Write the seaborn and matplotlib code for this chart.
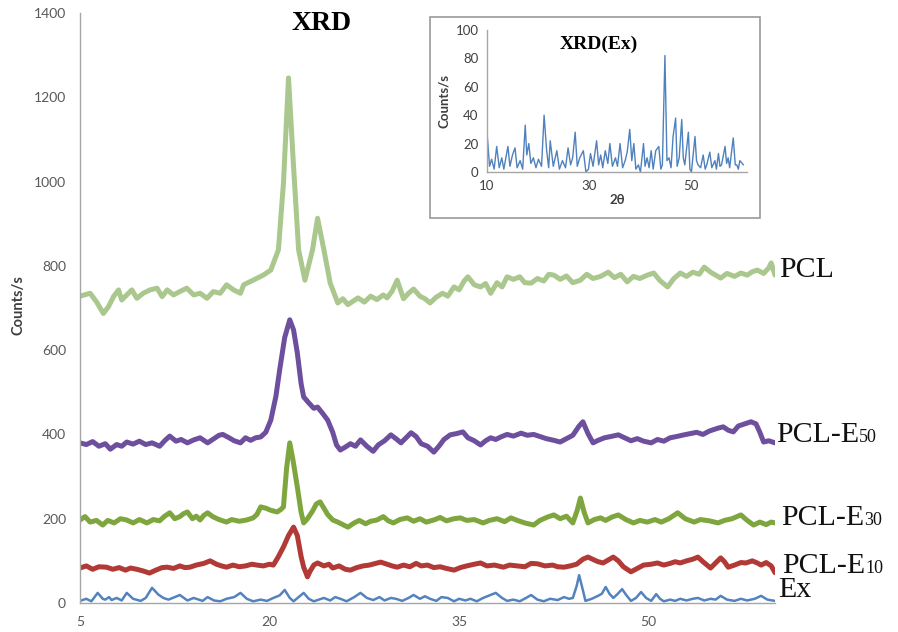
import matplotlib
matplotlib.use("Agg")
import matplotlib.pyplot as plt
import seaborn as sns
import pandas as pd
from matplotlib.patches import Rectangle

# ---------------- data ----------------
pcl_x = [5.0, 5.8, 6.3, 6.85, 7.25, 7.65, 8.05, 8.3, 8.7, 9.1, 9.5, 10.0, 10.55, 11.1,
         11.5, 11.9, 12.4, 12.9, 13.45, 14.0, 14.5, 15.05, 15.55, 16.1, 16.6, 17.15,
         17.7, 17.95, 18.7, 19.5, 20.1, 20.7, 21.1, 21.5, 21.9, 22.3, 22.8, 23.4, 23.8,
         24.3, 24.8, 25.4, 25.8, 26.2, 26.6, 27.0, 27.5, 28.0, 28.5, 29.0, 29.3, 29.7,
         30.1, 30.6, 31.0, 31.4, 31.9, 32.3, 32.7, 33.2, 33.7, 34.1, 34.6, 35.0, 35.4,
         35.7, 36.2, 36.7, 37.1, 37.5, 38.0, 38.4, 38.8, 39.3, 39.8, 40.2, 40.7, 41.2,
         41.7, 42.1, 42.5, 43.0, 43.5, 44.0, 44.6, 45.1, 45.6, 46.2, 46.8, 47.3, 47.8,
         48.3, 48.8, 49.3, 49.9, 50.4, 50.9, 51.5, 52.0, 52.5, 53.0, 53.5, 54.0, 54.4,
         54.9, 55.3, 55.7, 56.2, 56.8, 57.3, 57.8, 58.2, 58.6, 59.1, 59.5, 59.7, 60.0]
pcl_y = [728, 735, 715, 687, 703, 727, 743, 719, 731, 743, 723, 735, 743, 747,
         727, 743, 731, 739, 747, 731, 735, 723, 739, 735, 755, 743,
         735, 755, 766, 778, 790, 838, 996, 1246, 1035, 838, 766, 838, 913,
         838, 759, 712, 722, 708, 716, 724, 714, 728, 720, 731, 724, 740,
         766, 722, 735, 745, 728, 722, 712, 726, 735, 728, 750, 743, 764,
         774, 755, 750, 758, 735, 760, 750, 774, 768, 774, 760, 759, 770,
         764, 780, 778, 768, 776, 760, 766, 780, 770, 775, 785, 772, 780,
         762, 775, 770, 778, 783, 765, 750, 770, 783, 775, 785, 780, 797,
         785, 778, 771, 782, 775, 783, 778, 786, 790, 782, 795, 807, 778]

e50_x = [5.0, 5.5, 6.0, 6.5, 7.0, 7.4, 7.9, 8.3, 8.7, 9.2, 9.7, 10.2, 10.7, 11.3, 11.7,
         12.1, 12.6, 13.0, 13.5, 14.0, 14.5, 15.1, 15.6, 16.0, 16.3, 16.8, 17.2, 17.7,
         18.1, 18.5, 18.9, 19.3, 19.7, 20.1, 20.5, 20.8, 21.2, 21.6, 21.9, 22.2, 22.5,
         22.7, 23.1, 23.5, 23.8, 24.2, 24.6, 25.0, 25.3, 25.6, 26.0, 26.4, 26.8, 27.2,
         27.7, 28.2, 28.6, 29.1, 29.6, 30.0, 30.4, 30.8, 31.2, 31.6, 32.0, 32.5, 33.0,
         33.4, 33.8, 34.3, 34.8, 35.3, 35.7, 36.2, 36.7, 37.1, 37.5, 37.9, 38.3, 38.8,
         39.3, 39.9, 40.4, 40.9, 41.4, 41.9, 42.5, 43.0, 43.5, 44.0, 44.5, 44.8, 45.2,
         45.6, 46.0, 46.5, 47.0, 47.6, 48.1, 48.6, 49.1, 49.6, 50.2, 50.7, 51.2, 51.7,
         52.2, 52.8, 53.3, 53.8, 54.3, 54.8, 55.5, 55.9, 56.3, 56.7, 57.1, 57.6, 58.1,
         58.5, 58.8, 59.1, 59.5, 60.0]
e50_y = [380, 376, 383, 372, 378, 365, 376, 372, 382, 377, 384, 376, 380, 372, 385,
         396, 384, 388, 380, 387, 392, 380, 390, 398, 400, 392, 385, 380,
         392, 386, 392, 394, 405, 434, 490, 553, 630, 672, 648, 593, 520,
         489, 475, 462, 465, 450, 434, 405, 375, 363, 370, 378, 372, 387,
         372, 360, 375, 385, 399, 390, 380, 392, 404, 395, 378, 372, 358,
         372, 388, 399, 402, 406, 392, 385, 375, 385, 392, 388, 394, 400,
         396, 403, 398, 400, 395, 390, 386, 382, 390, 398, 420, 430, 402,
         380, 386, 392, 395, 399, 392, 385, 390, 384, 380, 388, 384, 392,
         395, 399, 402, 405, 400, 408, 415, 418, 410, 406, 420, 425, 430,
         425, 405, 382, 385, 380]

e30_x = [5.0, 5.4, 5.8, 6.3, 6.8, 7.2, 7.7, 8.2, 8.7, 9.2, 9.7, 10.3, 10.8, 11.3, 11.7,
         12.1, 12.5, 12.9, 13.2, 13.5, 13.9, 14.2, 14.5, 14.8, 15.1, 15.5, 16.0, 16.6,
         17.0, 17.6, 18.2, 18.7, 19.0, 19.3, 19.7, 20.1, 20.6, 20.9, 21.1, 21.35, 21.6,
         21.85, 22.2, 22.5, 22.7, 23.0, 23.4, 23.7, 24.0, 24.3, 24.6, 25.0, 25.4, 25.8,
         26.2, 26.7, 27.1, 27.6, 28.0, 28.5, 29.0, 29.4, 29.8, 30.3, 30.9, 31.4, 31.9,
         32.4, 33.0, 33.5, 34.0, 34.6, 35.1, 35.6, 36.2, 36.9, 37.4, 38.0, 38.6, 39.1,
         39.6, 40.2, 40.9, 41.4, 42.0, 42.5, 43.0, 43.5, 44.0, 44.35, 44.6, 44.9, 45.2,
         45.7, 46.2, 46.6, 47.1, 47.6, 48.2, 48.8, 49.3, 49.9, 50.5, 51.0, 51.6, 52.3,
         52.9, 53.6, 54.1, 54.8, 55.5, 56.0, 56.6, 57.3, 57.8, 58.3, 58.8, 59.3, 59.7,
         60.0]
e30_y = [197, 205, 192, 196, 185, 196, 190, 200, 197, 190, 198, 190, 198, 195, 206,
         214, 200, 205, 212, 216, 200, 206, 197, 208, 214, 205, 198, 192,
         198, 194, 197, 202, 210, 228, 225, 220, 216, 222, 228, 320, 380,
         340, 275, 215, 190, 200, 218, 235, 240, 225, 210, 197, 192, 186,
         180, 190, 196, 188, 194, 197, 205, 195, 190, 198, 202, 194, 200,
         192, 197, 203, 195, 200, 202, 196, 198, 190, 196, 200, 193, 202,
         196, 190, 185, 196, 204, 209, 200, 206, 190, 220, 249, 215, 190,
         198, 202, 196, 204, 209, 198, 190, 196, 192, 198, 192, 200, 214,
         200, 192, 198, 195, 190, 196, 200, 209, 196, 185, 192, 186, 192,
         190]

e10_x = [5.0, 5.5, 6.0, 6.5, 7.1, 7.6, 8.1, 8.6, 9.0, 9.5, 10.0, 10.5, 11.0, 11.5, 11.9,
         12.4, 12.9, 13.3, 13.7, 14.2, 14.8, 15.3, 15.8, 16.2, 16.6, 17.1, 17.6, 18.1,
         18.6, 19.0, 19.5, 20.0, 20.3, 20.7, 21.1, 21.5, 21.9, 22.2, 22.5, 22.7, 22.9,
         23.0, 23.2, 23.5, 23.8, 24.3, 24.7, 25.0, 25.5, 26.0, 26.4, 26.9, 27.4, 27.9,
         28.4, 28.8, 29.3, 29.7, 30.1, 30.6, 31.1, 31.6, 32.0, 32.5, 33.0, 33.5, 34.0,
         34.6, 35.1, 35.6, 36.2, 36.7, 37.2, 37.8, 38.5, 39.0, 39.6, 40.2, 40.7, 41.2,
         41.8, 42.4, 42.8, 43.3, 43.8, 44.3, 44.8, 45.2, 45.7, 46.0, 46.4, 46.8, 47.2,
         47.6, 48.0, 48.6, 49.1, 49.6, 50.2, 50.7, 51.2, 51.7, 52.1, 52.5, 53.0, 53.5,
         53.9, 54.3, 54.9, 55.3, 55.7, 56.0, 56.3, 56.8, 57.3, 57.7, 58.2, 58.6, 58.9,
         59.3, 59.7, 60.0]
e10_y = [83, 88, 80, 86, 85, 80, 84, 78, 83, 80, 76, 71, 78, 84, 85,
         82, 88, 84, 85, 90, 94, 100, 92, 88, 85, 90, 86, 88,
         92, 90, 88, 92, 90, 110, 133, 160, 180, 160, 110, 85, 70,
         62, 75, 90, 95, 88, 92, 83, 88, 80, 78, 84, 88, 90,
         94, 97, 92, 88, 85, 90, 86, 94, 88, 90, 84, 86, 82,
         78, 84, 88, 92, 95, 88, 90, 85, 90, 88, 86, 94, 93,
         88, 90, 86, 85, 88, 92, 104, 109, 102, 98, 95, 102, 109,
         100, 86, 74, 82, 90, 92, 95, 90, 94, 98, 95, 100, 104,
         109, 98, 83, 95, 107, 98, 85, 90, 96, 95, 100, 95, 90,
         96, 88, 72]

ex_x = [5.0, 5.5, 5.9, 6.4, 6.8, 7.0, 7.3, 7.5, 7.9, 8.3, 8.7, 9.2, 9.8, 10.2, 10.7,
        11.2, 11.6, 12.0, 12.5, 12.9, 13.5, 14.0, 14.3, 14.7, 15.1, 15.6, 16.1, 16.6,
        17.2, 17.7, 18.2, 18.7, 19.3, 19.8, 20.3, 20.8, 21.2, 21.6, 21.9, 22.3, 22.7,
        23.1, 23.5, 23.9, 24.3, 24.8, 25.2, 25.6, 26.1, 26.7, 27.2, 27.7, 28.2, 28.7,
        29.1, 29.6, 30.0, 30.5, 31.0, 31.4, 31.9, 32.3, 32.7, 33.2, 33.6, 34.1, 34.6,
        35.0, 35.5, 35.9, 36.4, 36.9, 37.4, 37.9, 38.4, 38.8, 39.3, 39.8, 40.3, 40.7,
        41.2, 41.7, 42.2, 42.8, 43.3, 43.7, 44.0, 44.3, 44.5, 44.8, 45.0, 45.5, 46.0,
        46.3, 46.6, 46.9, 47.2, 47.5, 47.9, 48.2, 48.6, 49.0, 49.4, 49.8, 50.2, 50.6,
        50.9, 51.2, 51.7, 52.1, 52.5, 53.0, 53.5, 53.9, 54.4, 54.9, 55.3, 55.7, 56.2,
        56.8, 57.3, 57.8, 58.4, 58.9, 59.4, 60.0]
ex_y = [5, 10, 4, 24, 10, 8, 14, 7, 12, 6, 24, 10, 5, 12, 36,
        20, 12, 8, 14, 19, 6, 12, 9, 5, 14, 6, 4, 10,
        14, 24, 10, 4, 8, 5, 12, 18, 31, 12, 4, 14, 24,
        10, 4, 8, 12, 6, 14, 10, 4, 14, 24, 12, 7, 14,
        6, 12, 10, 5, 12, 19, 10, 16, 10, 5, 14, 12, 4,
        10, 6, 10, 4, 12, 18, 24, 12, 5, 8, 4, 12, 19,
        8, 4, 10, 7, 14, 10, 12, 40, 66, 30, 5, 10, 17,
        22, 38, 22, 12, 20, 33, 20, 5, 12, 26, 12, 5, 21,
        10, 4, 8, 5, 10, 6, 10, 12, 6, 10, 8, 17, 8,
        5, 10, 6, 10, 17, 8, 5]

inset_x = [10.0, 10.5, 10.9, 11.4, 11.9, 12.4, 12.9, 13.3, 14.1, 14.5, 15.0, 15.5, 15.9,
           16.5, 17.0, 17.5, 17.8, 18.2, 18.6, 19.1, 19.6, 20.1, 20.7, 21.2, 21.7, 22.1,
           22.4, 23.0, 23.7, 24.2, 24.8, 25.4, 25.9, 26.4, 26.8, 27.3, 27.7, 28.2, 28.9,
           29.4, 29.9, 30.3, 30.8, 31.5, 31.9, 32.3, 32.7, 33.2, 33.7, 34.1, 34.6, 35.2,
           35.6, 36.1, 36.6, 37.1, 37.5, 38.0, 38.4, 38.8, 39.2, 39.7, 40.1, 40.7, 41.0,
           41.4, 41.8, 42.2, 42.6, 43.1, 43.7, 44.1, 44.4, 44.9, 45.3, 45.7, 46.1, 46.5,
           47.0, 47.3, 47.7, 48.2, 48.5, 48.8, 49.5, 49.8, 50.1, 50.8, 51.1, 51.4, 51.9,
           52.4, 52.8, 53.1, 53.7, 54.1, 54.7, 55.0, 55.4, 55.7, 56.0, 56.7, 57.0, 57.3,
           57.6, 58.3, 58.7, 59.0, 59.3, 59.6, 60.3]
inset_y = [28, 4, 9, 2, 18, 3, 10, 2, 18, 4, 12, 17, 3,
           8, 2, 33, 12, 20, 6, 10, 3, 9, 4, 40, 15, 3,
           22, 4, 15, 2, 8, 3, 17, 5, 10, 28, 4, 10, 15,
           0, 2, 13, 4, 22, 5, 12, 3, 15, 6, 20, 4, 10,
           4, 20, 3, 8, 14, 30, 8, 20, 2, 5, 0, 20, 4,
           10, 3, 15, 2, 15, 18, 2, 5, 82, 8, 10, 3, 25,
           38, 4, 10, 37, 10, 5, 28, 2, 0, 25, 8, 5, 3,
           12, 2, 5, 14, 3, 8, 2, 13, 4, 5, 18, 6, 10,
           3, 24, 5, 5, 2, 8, 5]

main_xticks = [5, 20, 35, 50]
main_yticks = [0, 200, 400, 600, 800, 1000, 1200, 1400]
inset_xticks = [10, 30, 50]
inset_yticks = [0, 20, 40, 60, 80, 100]

labels = [("PCL", ""), ("PCL-E", "50"), ("PCL-E", "30"), ("PCL-E", "10"), ("Ex", "")]

# ---------------- figure ----------------
sns.set_theme(style="white")
plt.rcParams['font.family'] = ['Lato', 'DejaVu Sans']

W, H = 898, 632
fig = plt.figure(figsize=(W / 100, H / 100), dpi=100)
ax = fig.add_axes([80 / W, 1 - 603 / H, (775 - 80) / W, (603 - 13) / H])

series = [
    (pcl_x, pcl_y, '#AAC78D', 3.6),
    (e50_x, e50_y, '#6E4F9E', 3.6),
    (e30_x, e30_y, '#7FA63E', 3.6),
    (e10_x, e10_y, '#B23A36', 3.6),
    (ex_x, ex_y, '#5383BE', 1.8),
]
for xs, ys, c, lw in series:
    df = pd.DataFrame({"x": xs, "y": ys})
    sns.lineplot(data=df, x="x", y="y", ax=ax, color=c, linewidth=lw,
                 sort=False, estimator=None)

ax.set_xlim(5, 60)
ax.set_ylim(0, 1400)
ax.set_xticks(main_xticks)
ax.set_yticks(main_yticks)
ax.set_xlabel("")
ax.set_ylabel("")
for s in ["top", "right"]:
    ax.spines[s].set_visible(False)
for s in ["left", "bottom"]:
    ax.spines[s].set_color("#A6A6A6")
    ax.spines[s].set_linewidth(1.0)
ax.tick_params(axis="both", direction="out", length=3, width=1, color="#A6A6A6",
               labelcolor="#595959", labelsize=10)
ax.tick_params(axis="y", pad=7)
ax.tick_params(axis="x", pad=6)

fig.text(322 / W, 1 - 30 / H, "XRD", family="Liberation Serif", weight="bold",
         size=20, ha="center", va="baseline", color="black")
fig.text(18 / W, 1 - 305 / H, "Counts/s", rotation=90, weight="bold", size=10.5,
         ha="center", va="center", color="#3F3F3F")

# right-hand labels with small subscript digits
renderer = fig.canvas.get_renderer()
label_pos = [(779, 277), (776, 442), (781, 525), (782, 573), (778, 597)]
for (main, sub), (px, py) in zip(labels, label_pos):
    t = fig.text(px / W, 1 - py / H, main, family="Liberation Serif", size=21.5,
                 ha="left", va="baseline", color="#111111")
    if sub:
        bb = t.get_window_extent(renderer)
        fig.text(bb.x1 / W, 1 - py / H, sub, family="Liberation Serif", size=13,
                 ha="left", va="baseline", color="#111111")

# ---------------- inset ----------------
fig.patches.append(Rectangle((430 / W, 1 - 218 / H), 330 / W, 201 / H,
                             transform=fig.transFigure, fill=False,
                             edgecolor="#9A9A9A", linewidth=1.2))
axi = fig.add_axes([487 / W, 1 - 172 / H, (747 - 487) / W, (172 - 30) / H])
dfi = pd.DataFrame({"x": inset_x, "y": inset_y})
sns.lineplot(data=dfi, x="x", y="y", ax=axi, color="#4F81BD", linewidth=1.0,
             sort=False, estimator=None)
axi.set_xlim(10, 61)
axi.set_ylim(0, 100)
axi.set_xticks(inset_xticks)
axi.set_yticks(inset_yticks)
axi.set_xlabel("2θ", weight="bold", size=9.5, color="#3F3F3F", labelpad=1)
axi.set_ylabel("Counts/s", weight="bold", size=9.5, color="#3F3F3F", labelpad=4)
for s in ["top", "right"]:
    axi.spines[s].set_visible(False)
for s in ["left", "bottom"]:
    axi.spines[s].set_color("#A6A6A6")
    axi.spines[s].set_linewidth(1.0)
axi.tick_params(axis="both", direction="out", length=3, width=1, color="#A6A6A6",
                labelcolor="#404040", labelsize=9.5, pad=3)
axi.text(0.43, 0.90, "XRD(Ex)", transform=axi.transAxes, family="Liberation Serif",
         weight="bold", size=14, ha="center", va="center", color="black")
axi.set_facecolor("none")

fig.savefig("out.png", dpi=100)
